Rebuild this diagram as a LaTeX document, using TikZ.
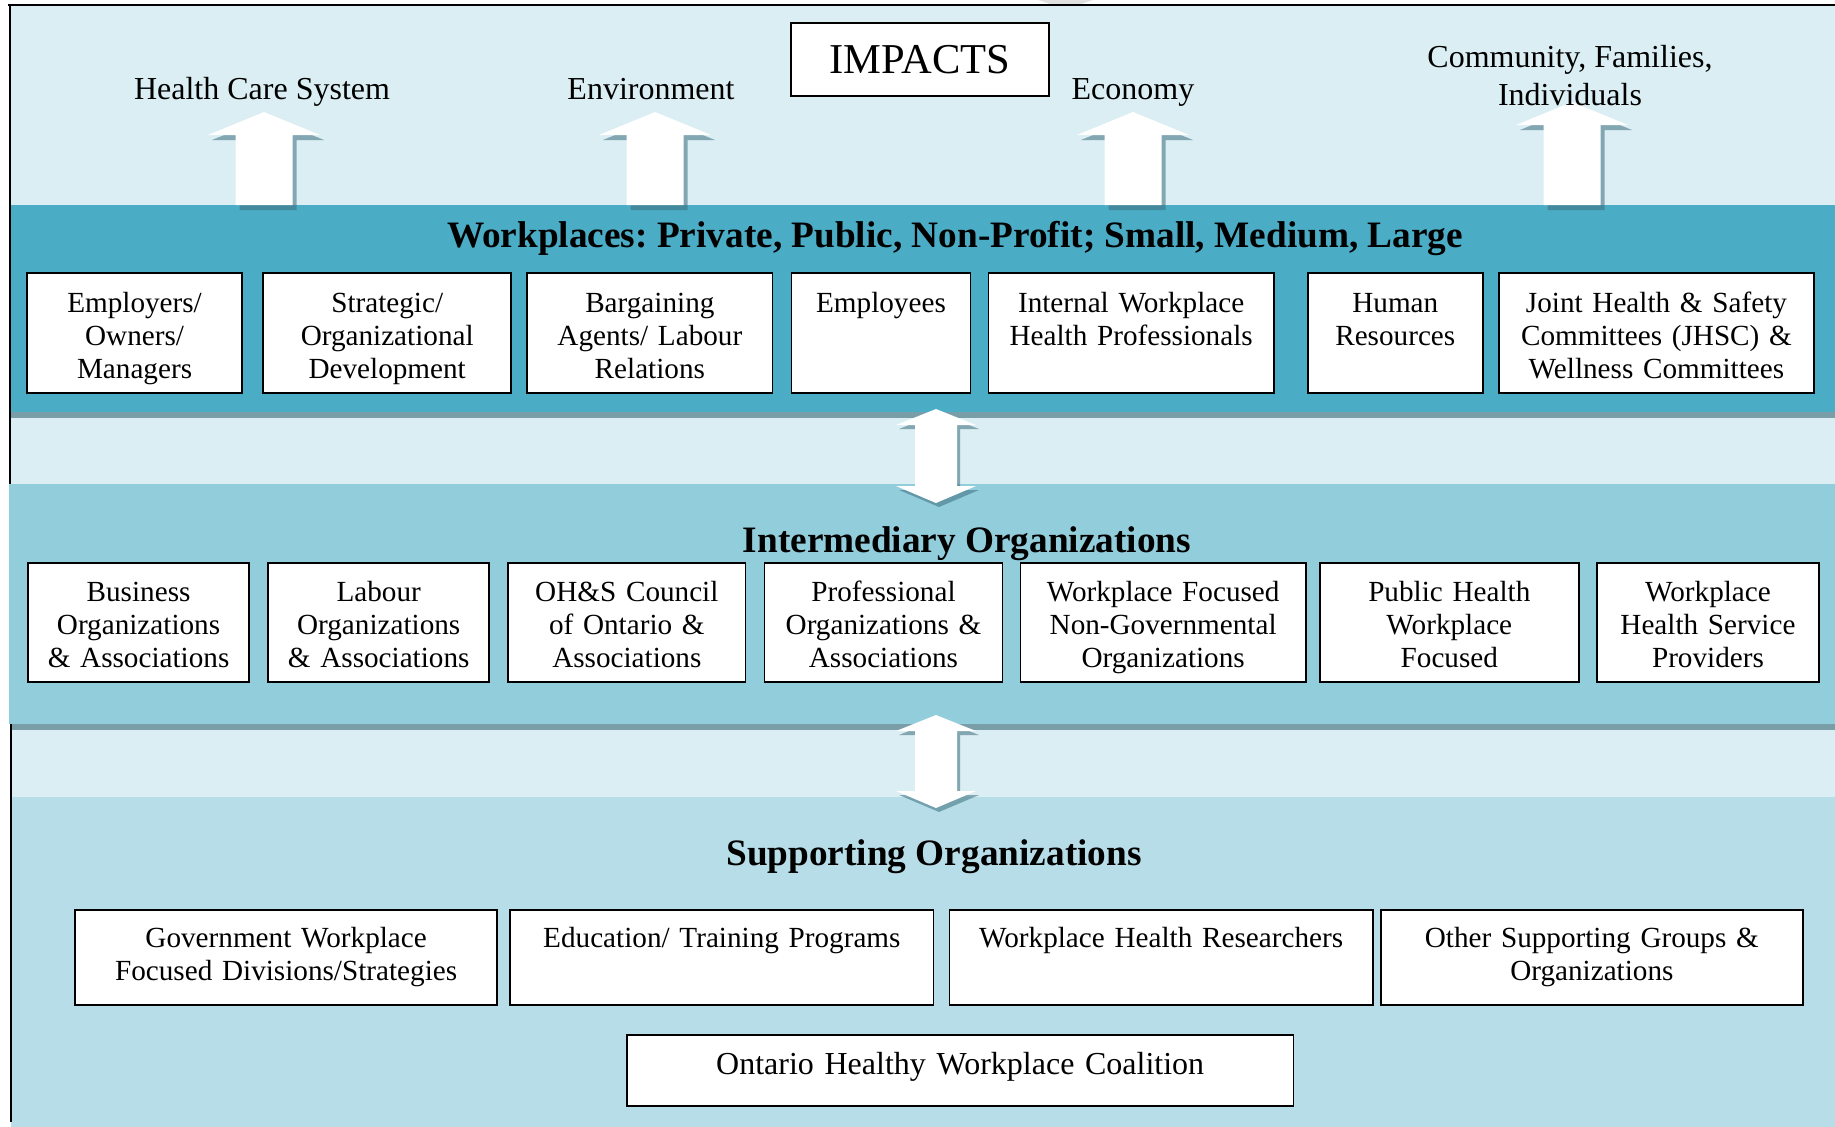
\documentclass[tikz,border=0pt]{standalone}
\usepackage{fontspec}
\setmainfont{Liberation Serif}
\usetikzlibrary{positioning}
\definecolor{paleaqua}{RGB}{218,238,243}
\definecolor{wpteal}{RGB}{75,172,198}
\definecolor{imaqua}{RGB}{146,205,220}
\definecolor{spaqua}{RGB}{183,222,232}
\definecolor{stripgray}{RGB}{122,158,168}
\definecolor{arrshade}{RGB}{60,110,125}
\newcommand{\orgfont}{\fontsize{8.3}{9.5}\selectfont}
\newcommand{\headfont}{\fontsize{10.6}{12}\selectfont\bfseries}
\frenchspacing

\begin{document}
\begin{tikzpicture}[x=0.01cm, y=-0.01cm,
  orgbox/.style={draw, fill=white, line width=.5pt, inner sep=0pt, outer sep=0pt, align=center, text width=#1, font=\orgfont},
  wrow/.style={text height=.39cm, text depth=.81cm},
  irow/.style={text height=.38cm, text depth=.81cm},
  srow/.style={text height=.37cm, text depth=.58cm},
  crow/.style={text height=.39cm, text depth=.32cm, font=\fontsize{9.1}{10}\selectfont},
  impact/.style={align=center, anchor=base, inner sep=0pt, font=\fontsize{9.1}{10.8}\selectfont},
  header/.style={anchor=base, inner sep=0pt, font=\headfont},
  shade/.style={fill=arrshade, fill opacity=.55}]
  \useasboundingbox (0,0) rectangle (1835,1127);
  % background bands
  \fill[paleaqua] (10,5) rectangle (1835,205);
  \fill[wpteal] (10,205) rectangle (1835,412);
  \fill[stripgray] (11,412) rectangle (1835,418);
  \fill[paleaqua] (10,418) rectangle (1835,484);
  \fill[imaqua] (9,484) rectangle (1835,724);
  \fill[stripgray] (11,724) rectangle (1835,730);
  \fill[paleaqua] (10,730) rectangle (1835,797);
  \fill[spaqua] (11,797) rectangle (1835,1127);
  \fill[black!12] (1038,0) -- (1093,0) -- (1078,5) -- (1053,5) -- cycle;
  \draw[line width=.7pt] (8,5) -- (1835,5);
  \draw[line width=.5pt] (10,5) -- (10,484);
  \draw[line width=.5pt] (11,724) -- (11,1122);

  % block arrows up to the impacts
  \foreach \cx/\tp in {264/112, 655/112, 1133/112, 1572/102} {
    \fill[shade, shift={(4,5)}] (\cx,\tp) -- (\cx+56,\tp+23) -- (\cx+28.5,\tp+23) -- (\cx+28.5,205)
      -- (\cx-28.5,205) -- (\cx-28.5,\tp+23) -- (\cx-56,\tp+23) -- cycle;
    \fill[white] (\cx,\tp) -- (\cx+56,\tp+23) -- (\cx+28.5,\tp+23) -- (\cx+28.5,205)
      -- (\cx-28.5,205) -- (\cx-28.5,\tp+23) -- (\cx-56,\tp+23) -- cycle;
  }
  % two-way arrows between the levels
  \foreach \ta/\tb in {409/503, 715/808} {
    \fill[shade, shift={(3,4)}] (936,\ta) -- (976,\ta+16) -- (957,\ta+16) -- (957,\tb-17) -- (976,\tb-17)
      -- (936,\tb) -- (896,\tb-17) -- (915,\tb-17) -- (915,\ta+16) -- (896,\ta+16) -- cycle;
    \fill[white] (936,\ta) -- (976,\ta+16) -- (957,\ta+16) -- (957,\tb-17) -- (976,\tb-17)
      -- (936,\tb) -- (896,\tb-17) -- (915,\tb-17) -- (915,\ta+16) -- (896,\ta+16) -- cycle;
  }

  % impacts
  \node[draw, fill=white, line width=.8pt, minimum width=2.58cm, minimum height=.73cm, inner sep=0pt,
    font=\fontsize{12.1}{14}\selectfont] (impacts) at (920,59.5) {IMPACTS};
  \node[impact] (hcs) at (262,100) {Health Care System};
  \node[impact] (env) at (651,100) {Environment};
  \node[impact] (eco) at (1133,100) {Economy};
  \node[impact] (cfi) at (1570,105) {Community, Families,\\Individuals};

  % workplaces
  \node[header] (wptitle) at (955,248) {Workplaces: Private, Public, Non-Profit; Small, Medium, Large};
  \node[orgbox=2.15cm, wrow, anchor=north west] (emp) at (27,273) {Employers/\\Owners/\\Managers};
  \node[orgbox=2.48cm, wrow, right=0.21cm of emp] (strat) {Strategic/\\Organizational\\Development};
  \node[orgbox=2.45cm, wrow, right=0.16cm of strat] (barg) {Bargaining\\Agents/ Labour\\Relations};
  \node[orgbox=1.79cm, wrow, right=0.19cm of barg] (staff) {Employees};
  \node[orgbox=2.85cm, wrow, right=0.18cm of staff] (ihp) {Internal Workplace\\Health Professionals};
  \node[orgbox=1.75cm, wrow, right=0.34cm of ihp] (hr) {Human\\Resources};
  \node[orgbox=3.15cm, wrow, right=0.16cm of hr] (jhsc) {Joint Health \& Safety\\Committees (JHSC) \&\\Wellness Committees};

  % intermediary organizations
  \node[header] (imtitle) at (967,552) {Intermediary Organizations};
  \node[orgbox=2.21cm, irow, anchor=north west] (bus) at (28,563) {Business\\Organizations\\\& Associations};
  \node[orgbox=2.21cm, irow, right=0.19cm of bus] (lab) {Labour\\Organizations\\\& Associations};
  \node[orgbox=2.37cm, irow, right=0.19cm of lab] (ohsc) {OH\&S Council\\of Ontario \&\\Associations};
  \node[orgbox=2.38cm, irow, right=0.19cm of ohsc] (prof) {Professional\\Organizations \&\\Associations};
  \node[orgbox=2.85cm, irow, right=0.18cm of prof] (ngo) {Workplace Focused\\Non-Governmental\\Organizations};
  \node[orgbox=2.59cm, irow, right=0.14cm of ngo] (pubh) {Public Health\\Workplace\\Focused};
  \node[orgbox=2.22cm, irow, right=0.18cm of pubh] (whsp) {Workplace\\Health Service\\Providers};

  % supporting organizations
  \node[header] (sptitle) at (934,865) {Supporting Organizations};
  \node[orgbox=4.22cm, srow, anchor=north west] (gov) at (75,910) {Government Workplace\\Focused Divisions/Strategies};
  \node[orgbox=4.23cm, srow, right=0.13cm of gov] (edu) {Education/ Training Programs};
  \node[orgbox=4.23cm, srow, right=0.16cm of edu] (res) {Workplace Health Researchers};
  \node[orgbox=4.22cm, srow, right=0.08cm of res] (oth) {Other Supporting Groups \&\\Organizations};
  \node[orgbox=6.66cm, crow, anchor=north west] (ohwc) at (627,1035) {Ontario Healthy Workplace Coalition};
\end{tikzpicture}
\end{document}
